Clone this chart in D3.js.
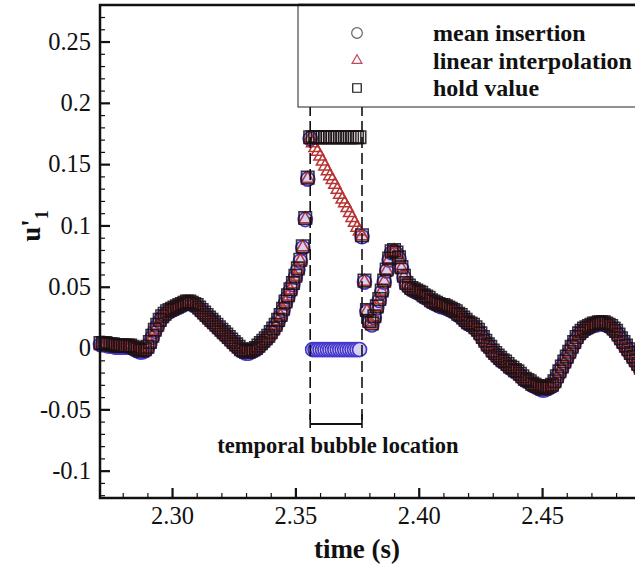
<!DOCTYPE html>
<html>
<head>
<meta charset="utf-8">
<script src="https://cdn.jsdelivr.net/npm/d3@7"></script>
<style>
  body { margin: 0; background: #fff; }
  svg text { font-family: "Liberation Serif", "Times New Roman", serif; }
</style>
</head>
<body>
<div id="chart"></div>
<script>
// velocity fluctuation u'1, sampled every 1 ms starting at t = 2.271 s
const sampleStart = 2.271;
const sampleStep = 0.001;
// null marks the samples lost inside the bubble
const signal = [
  0.004, 0.004, 0.004, 0.003, 0.003, 0.003, 0.002, 0.002, 0.002, 0.002,
  0.002, 0.002, 0.002, 0.001, 0.000, -0.001, -0.002, -0.002, -0.001, 0.001,
  0.005, 0.010, 0.015, 0.019, 0.023, 0.026, 0.028, 0.030, 0.031, 0.032,
  0.033, 0.034, 0.035, 0.036, 0.037, 0.038, 0.038, 0.037, 0.036, 0.035,
  0.033, 0.031, 0.029, 0.027, 0.025, 0.023, 0.021, 0.019, 0.017, 0.015,
  0.013, 0.011, 0.009, 0.007, 0.005, 0.003, 0.001, -0.001, -0.002, -0.003,
  -0.003, -0.002, -0.001, 0.000, 0.002, 0.004, 0.006, 0.008, 0.010, 0.013,
  0.016, 0.019, 0.023, 0.027, 0.032, 0.038, 0.043, 0.048, 0.053, 0.059,
  0.065, 0.072, 0.083, 0.106, 0.139, 0.172, null, null, null, null,
  null, null, null, null, null, null, null, null, null, null,
  null, null, null, null, null, null, 0.092, 0.055, 0.031, 0.022,
  0.020, 0.026, 0.034, 0.040, 0.047, 0.055, 0.064, 0.073, 0.079, 0.080,
  0.078, 0.074, 0.066, 0.059, 0.053, 0.051, 0.049, 0.048, 0.047, 0.046,
  0.045, 0.043, 0.042, 0.041, 0.039, 0.038, 0.037, 0.036, 0.035, 0.035,
  0.034, 0.033, 0.032, 0.031, 0.030, 0.028, 0.027, 0.025, 0.023, 0.021,
  0.020, 0.019, 0.017, 0.015, 0.012, 0.009, 0.006, 0.003, 0.001, -0.002,
  -0.004, -0.006, -0.008, -0.010, -0.011, -0.013, -0.015, -0.016, -0.018, -0.019,
  -0.021, -0.023, -0.025, -0.026, -0.027, -0.029, -0.030, -0.031, -0.032, -0.033,
  -0.033, -0.032, -0.031, -0.030, -0.027, -0.023, -0.019, -0.015, -0.011, -0.007,
  -0.003, 0.001, 0.005, 0.009, 0.012, 0.014, 0.016, 0.017, 0.018, 0.019,
  0.020, 0.020, 0.021, 0.021, 0.021, 0.020, 0.019, 0.018, 0.016, 0.014,
  0.011, 0.008, 0.005, 0.002, -0.001, -0.004, -0.007, -0.010, -0.013, -0.016
];

// values put into the gap by each filling method
const gapMean = [0, 0, 0, 0, 0, 0, 0, 0, 0, 0, 0, 0, 0, 0, 0, 0, 0, 0, 0, 0];
const gapLinear = [0.168, 0.164, 0.161, 0.157, 0.153, 0.149, 0.145, 0.141, 0.138, 0.134,
                   0.130, 0.126, 0.122, 0.119, 0.115, 0.111, 0.107, 0.103, 0.099, 0.096];
const gapHold = [0.172, 0.172, 0.172, 0.172, 0.172, 0.172, 0.172, 0.172, 0.172, 0.172,
                 0.172, 0.172, 0.172, 0.172, 0.172, 0.172, 0.172, 0.172, 0.172, 0.172];

const bubbleEdges = [2.356, 2.377];

const xTicks = [2.30, 2.35, 2.40, 2.45];
const xTickLabels = ["2.30", "2.35", "2.40", "2.45"];
const xMinorTicks = [2.28, 2.29, 2.31, 2.32, 2.33, 2.34, 2.36, 2.37, 2.38, 2.39,
                     2.41, 2.42, 2.43, 2.44, 2.46, 2.47, 2.48, 2.49];
const yTicks = [-0.1, -0.05, 0, 0.05, 0.1, 0.15, 0.2, 0.25];
const yTickLabels = ["-0.1", "-0.05", "0", "0.05", "0.1", "0.15", "0.2", "0.25"];
const yMinorTicks = [-0.12, -0.11, -0.09, -0.08, -0.07, -0.06, -0.04, -0.03, -0.02, -0.01,
                     0.01, 0.02, 0.03, 0.04, 0.06, 0.07, 0.08, 0.09, 0.11, 0.12, 0.13, 0.14,
                     0.16, 0.17, 0.18, 0.19, 0.21, 0.22, 0.23, 0.24, 0.26, 0.27];

const legendNames = ["mean insertion", "linear interpolation", "hold value"];

const width = 635, height = 573;
const plotL = 100, plotT = 5, plotR = 642, plotB = 498;

const x = d3.scaleLinear().domain([2.2708, 2.4905]).range([plotL, plotR]);
const y = d3.scaleLinear().domain([-0.1223, 0.2798]).range([plotB, plotT]);

// fill the gap of the signal with one of the gap arrays
function fillGap(gapVals) {
  let k = 0;
  return signal.map((v, i) => {
    const t = sampleStart + i * sampleStep;
    if (v === null) return { t: t, v: gapVals[k++] };
    return { t: t, v: v };
  });
}

const meanData = fillGap(gapMean);
const linearData = fillGap(gapLinear);
const holdData = fillGap(gapHold);

const svg = d3.select("#chart").append("svg")
  .attr("width", width)
  .attr("height", height);

// markers: circles at the bottom, then triangles, squares on top
const circleSym = d3.symbol(d3.symbolCircle, 155);
const squareSym = d3.symbol(d3.symbolSquare, 155);
const triSym = d3.symbol(d3.symbolTriangle, 66);

svg.append("g").selectAll("path")
  .data(meanData)
  .join("path")
  .attr("d", circleSym)
  .attr("transform", d => `translate(${x(d.t)},${y(d.v) + 1.5})`)
  .attr("fill", "#d6d0f2")
  .attr("stroke", "#4335cc")
  .attr("stroke-width", 1.6);

svg.append("g").selectAll("path")
  .data(linearData)
  .join("path")
  .attr("d", triSym)
  .attr("transform", d => `translate(${x(d.t)},${y(d.v) + 1})`)
  .attr("fill", "none")
  .attr("stroke", "#b83434")
  .attr("stroke-width", 1.5);

svg.append("g").selectAll("path")
  .data(holdData)
  .join("path")
  .attr("d", squareSym)
  .attr("transform", d => `translate(${x(d.t)},${y(d.v)})`)
  .attr("fill", "none")
  .attr("stroke", "#1a1014")
  .attr("stroke-width", 1.6)
  .attr("stroke-opacity", 0.85);

// bubble boundaries and bracket
const bubble = svg.append("g");
bubble.selectAll("line.edge")
  .data(bubbleEdges)
  .join("line")
  .attr("class", "edge")
  .attr("x1", d => x(d)).attr("x2", d => x(d))
  .attr("y1", plotT + 4).attr("y2", 424)
  .attr("stroke", "#111")
  .attr("stroke-width", 1.6)
  .attr("stroke-dasharray", "11,5");
bubble.selectAll("line.cap")
  .data(bubbleEdges)
  .join("line")
  .attr("class", "cap")
  .attr("x1", d => x(d)).attr("x2", d => x(d))
  .attr("y1", 414).attr("y2", 428)
  .attr("stroke", "#111")
  .attr("stroke-width", 1.6);
bubble.append("line")
  .attr("x1", x(bubbleEdges[0])).attr("x2", x(bubbleEdges[1]))
  .attr("y1", 424).attr("y2", 424)
  .attr("stroke", "#111")
  .attr("stroke-width", 2.2);
bubble.append("text")
  .attr("x", 338).attr("y", 453)
  .attr("text-anchor", "middle")
  .attr("font-weight", "bold")
  .attr("font-size", 22.5)
  .attr("fill", "#111")
  .text("temporal bubble location");

// axes, ticks point into the plot
const xAxis = svg.append("g")
  .attr("transform", `translate(0,${plotB})`)
  .call(d3.axisBottom(x).tickValues(xTicks).tickSize(-10).tickSizeOuter(0)
    .tickPadding(9).tickFormat((d, i) => xTickLabels[i]));
svg.append("g")
  .attr("transform", `translate(0,${plotB})`)
  .call(d3.axisBottom(x).tickValues(xMinorTicks).tickSize(-5).tickSizeOuter(0).tickFormat(""));

const yAxis = svg.append("g")
  .attr("transform", `translate(${plotL},0)`)
  .call(d3.axisLeft(y).tickValues(yTicks).tickSize(-10).tickSizeOuter(0)
    .tickPadding(9).tickFormat((d, i) => yTickLabels[i]));
svg.append("g")
  .attr("transform", `translate(${plotL},0)`)
  .call(d3.axisLeft(y).tickValues(yMinorTicks).tickSize(-5).tickSizeOuter(0).tickFormat(""));

svg.selectAll(".domain").remove();
svg.selectAll(".tick line").attr("stroke", "#111").attr("stroke-width", 1.2);
xAxis.selectAll(".tick line").attr("stroke-width", 2.2);
yAxis.selectAll(".tick line").attr("stroke-width", 2.2);
svg.selectAll(".tick text")
  .attr("font-family", "Liberation Serif, Times New Roman, serif")
  .attr("font-size", 24.5)
  .attr("fill", "#111");

// frame
svg.append("rect")
  .attr("x", plotL).attr("y", plotT)
  .attr("width", plotR - plotL).attr("height", plotB - plotT)
  .attr("fill", "none")
  .attr("stroke", "#111")
  .attr("stroke-width", 2.5);

// legend
const legend = svg.append("g");
legend.append("rect")
  .attr("x", 298).attr("y", plotT)
  .attr("width", 400).attr("height", 102)
  .attr("fill", "#fff")
  .attr("stroke", "#222")
  .attr("stroke-width", 1);
svg.append("line")
  .attr("x1", 298).attr("x2", width)
  .attr("y1", plotT).attr("y2", plotT)
  .attr("stroke", "#111").attr("stroke-width", 2.5);

const legendSyms = [
  { sym: d3.symbol(d3.symbolCircle, 90), color: "#666" },
  { sym: d3.symbol(d3.symbolTriangle, 42), color: "#c04a5a" },
  { sym: d3.symbol(d3.symbolSquare, 72), color: "#111" }
];
const rows = legend.selectAll("g.row")
  .data(legendNames)
  .join("g")
  .attr("class", "row")
  .attr("transform", (d, i) => `translate(0,${33 + i * 27.5})`);
rows.append("path")
  .attr("d", (d, i) => legendSyms[i].sym())
  .attr("transform", "translate(357,0)")
  .attr("fill", "none")
  .attr("stroke", (d, i) => legendSyms[i].color)
  .attr("stroke-width", 1.2);
rows.append("text")
  .attr("x", 433).attr("y", 8)
  .attr("font-weight", "bold")
  .attr("font-size", 24)
  .attr("fill", "#111")
  .text(d => d);

// axis titles
svg.append("text")
  .attr("x", 357).attr("y", 558)
  .attr("text-anchor", "middle")
  .attr("font-weight", "bold")
  .attr("font-size", 27)
  .attr("fill", "#111")
  .text("time (s)");

const yTitle = svg.append("text")
  .attr("transform", "translate(40,226) rotate(-90)")
  .attr("text-anchor", "middle")
  .attr("font-weight", "bold")
  .attr("font-size", 27)
  .attr("fill", "#111");
yTitle.append("tspan").text("u'");
yTitle.append("tspan").attr("font-size", 18).attr("dy", 8).text("1");
</script>
</body>
</html>
